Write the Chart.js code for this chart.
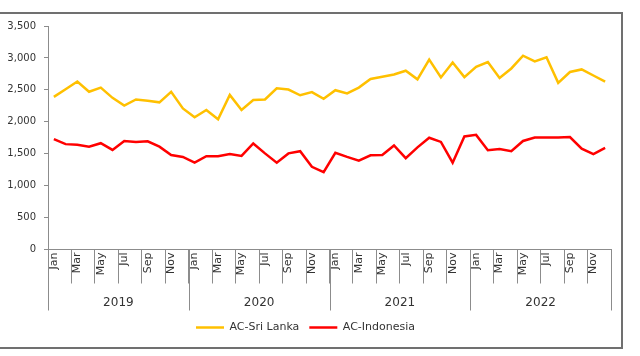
<!DOCTYPE html>
<html>
<head>
<meta charset="utf-8">
<script src="https://cdn.jsdelivr.net/npm/chart.js@4.4.1/dist/chart.umd.min.js"></script>
<style>
  html, body { margin: 0; padding: 0; background: #ffffff; }
  #wrap { position: relative; width: 640px; height: 356px; overflow: hidden; }
  #frame { position: absolute; left: -4px; top: 12px; width: 627px; height: 337px;
           box-sizing: border-box; border: 2px solid #707070; pointer-events: none; }
  canvas { position: absolute; left: 0; top: 0; }
</style>
</head>
<body>
<div id="wrap">
  <canvas id="c" width="640" height="356"></canvas>
  <div id="frame"></div>
</div>
<script>
const months = ['Jan','Feb','Mar','Apr','May','Jun','Jul','Aug','Sep','Oct','Nov','Dec'];
const years = ['2019','2020','2021','2022'];
const yTicks = [0, 500, 1000, 1500, 2000, 2500, 3000, 3500];

const sriLanka = [
  2390, 2510, 2630, 2470, 2535, 2375, 2255, 2350, 2330, 2305, 2470, 2210,
  2070, 2185, 2040, 2420, 2185, 2340, 2350, 2525, 2505, 2415, 2465, 2360,
  2495, 2445, 2535, 2670, 2705, 2740, 2800, 2665, 2975, 2695, 2930, 2700,
  2860, 2935, 2685, 2835, 3035, 2945, 3010, 2610, 2780, 2820, 2725, 2630
];
const indonesia = [
  1730, 1650, 1640, 1610, 1665, 1560, 1700, 1685, 1695, 1610, 1480, 1450,
  1360, 1460, 1460, 1495, 1465, 1660, 1505, 1360, 1505, 1540, 1295, 1210,
  1515, 1450, 1390, 1475, 1480, 1630, 1430, 1600, 1750, 1685, 1360, 1770,
  1795, 1555, 1575, 1540, 1700, 1755, 1755, 1755, 1760, 1580, 1495, 1590
];

const categories = [];
years.forEach(y => months.forEach(m => categories.push(m + ' ' + y)));

const FONT = 'DejaVu Sans';
const TEXT = '#333333';
const AXIS = '#8c8c8c';

const yearPlugin = {
  id: 'yearGroups',
  afterDraw(chart) {
    const xs = chart.scales.x;
    const ctx = chart.ctx;
    const top = chart.chartArea.bottom;
    const step = xs.getPixelForValue(1) - xs.getPixelForValue(0);
    ctx.save();
    ctx.strokeStyle = AXIS;
    ctx.lineWidth = 1;
    for (let g = 0; g <= years.length; g++) {
      const idx = Math.min(g * months.length, categories.length - 1);
      const base = xs.getPixelForValue(idx);
      const px = Math.round(g * months.length >= categories.length ? base + step / 2 : base - step / 2) + 0.5;
      ctx.beginPath();
      ctx.moveTo(px, top);
      ctx.lineTo(px, top + 61);
      ctx.stroke();
    }
    ctx.fillStyle = TEXT;
    ctx.font = '12px "' + FONT + '"';
    ctx.textAlign = 'center';
    ctx.textBaseline = 'middle';
    years.forEach((yr, g) => {
      const a = xs.getPixelForValue(g * months.length);
      const b = xs.getPixelForValue(g * months.length + months.length - 1);
      ctx.fillText(yr, (a + b) / 2, top + 53);
    });
    ctx.restore();
  }
};

new Chart(document.getElementById('c'), {
  type: 'line',
  data: {
    labels: categories,
    datasets: [
      { label: 'AC-Sri Lanka', data: sriLanka, borderColor: '#FFC000', backgroundColor: '#FFC000',
        borderWidth: 2.5, pointRadius: 0, tension: 0, fill: false },
      { label: 'AC-Indonesia', data: indonesia, borderColor: '#FF0000', backgroundColor: '#FF0000',
        borderWidth: 2.5, pointRadius: 0, tension: 0, fill: false }
    ]
  },
  options: {
    responsive: false,
    animation: false,
    layout: { padding: { top: 26, left: 0, right: 29, bottom: 13 } },
    plugins: {
      tooltip: { enabled: false },
      legend: {
        position: 'bottom',
        labels: {
          usePointStyle: true, pointStyle: 'line', pointStyleWidth: 28,
          font: { family: FONT, size: 11 }, color: TEXT, padding: 10
        }
      }
    },
    scales: {
      x: {
        type: 'category',
        offset: true,
        grid: {
          display: true, drawOnChartArea: false, drawTicks: true, tickLength: 34, offset: true,
          color: ctx => (ctx.index % 2 === 0 ? AXIS : 'rgba(0,0,0,0)'), lineWidth: 1
        },
        border: { display: true, color: AXIS, width: 1 },
        ticks: {
          autoSkip: false, minRotation: 90, maxRotation: 90, padding: -31,
          font: { family: FONT, size: 11 }, color: TEXT,
          callback: (v, i) => (i % 2 === 0 ? months[i % 12] : '')
        },
        afterFit: s => { s.height = 62.5; }
      },
      y: {
        min: 0, max: 3500,
        afterBuildTicks: s => { s.ticks = yTicks.map(v => ({ value: v })); },
        grid: { display: true, drawOnChartArea: false, drawTicks: true, tickLength: 4, color: AXIS },
        border: { display: true, color: AXIS, width: 1 },
        ticks: {
          padding: 8, font: { family: FONT, size: 10 }, color: TEXT,
          callback: v => v.toLocaleString('en-US')
        },
        afterFit: s => { s.width = 48; }
      }
    }
  },
  plugins: [yearPlugin]
});
</script>
</body>
</html>
